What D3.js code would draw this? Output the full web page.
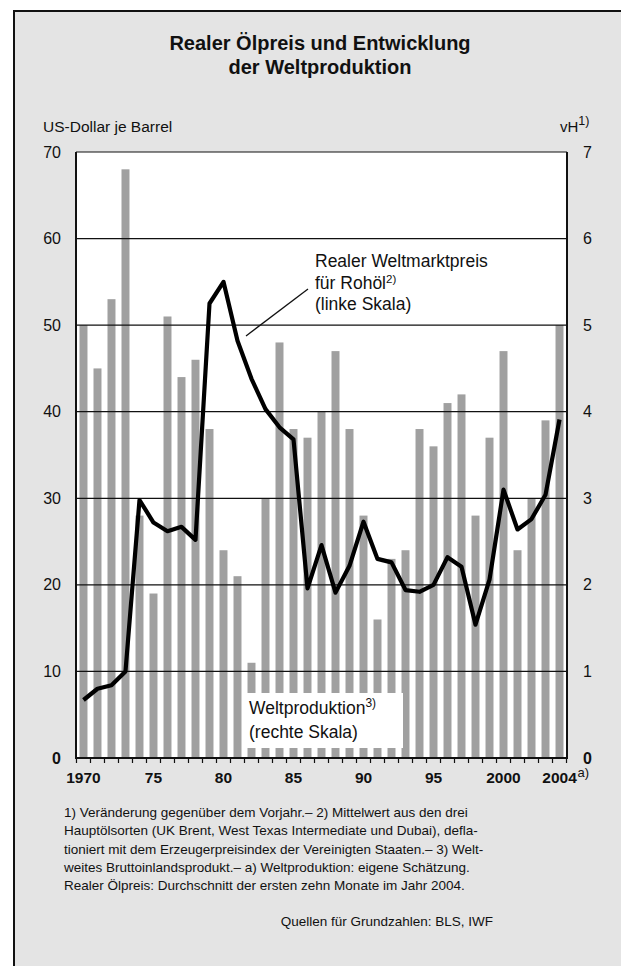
<!DOCTYPE html>
<html>
<head>
<meta charset="utf-8">
<script src="https://cdn.jsdelivr.net/npm/d3@7"></script>
<style>
  body { margin: 0; background: #fff; }
  text { font-family: "Liberation Sans", Arial, sans-serif; fill: #111; }
</style>
</head>
<body>
<div id="chart"></div>
<script>
// years 1970..2004
const years = d3.range(1970, 2005);

// world production, change vs previous year (vH, right scale)
const production = [5.0, 4.5, 5.3, 6.8, 2.8, 1.9, 5.1, 4.4, 4.6, 3.8,
                    2.4, 2.1, 1.1, 3.0, 4.8, 3.8, 3.7, 4.0, 4.7, 3.8,
                    2.8, 1.6, 2.3, 2.4, 3.8, 3.6, 4.1, 4.2, 2.8, 3.7,
                    4.7, 2.4, 3.0, 3.9, 5.0];

// real crude oil price, US-Dollar per barrel (left scale)
const oilPrice = [6.7, 8.0, 8.4, 10.0, 29.8, 27.2, 26.2, 26.7, 25.2, 52.5,
                  55.0, 48.2, 43.8, 40.3, 38.2, 36.8, 19.6, 24.6, 19.1, 22.2,
                  27.3, 23.0, 22.6, 19.4, 19.2, 20.0, 23.2, 22.1, 15.4, 20.6,
                  31.0, 26.4, 27.6, 30.4, 39.1];

const leftTicks = [0, 10, 20, 30, 40, 50, 60, 70];
const rightTicks = [0, 1, 2, 3, 4, 5, 6, 7];
const yearLabels = {1970: '1970', 1975: '75', 1980: '80', 1985: '85', 1990: '90', 1995: '95', 2000: '2000', 2004: '2004'};

const footnotes = [
  '1) Veränderung gegenüber dem Vorjahr.– 2) Mittelwert aus den drei',
  'Hauptölsorten (UK Brent, West Texas Intermediate und Dubai), defla-',
  'tioniert mit dem Erzeugerpreisindex der Vereinigten Staaten.– 3) Welt-',
  'weites Bruttoinlandsprodukt.– a) Weltproduktion: eigene Schätzung.',
  'Realer Ölpreis: Durchschnitt der ersten zehn Monate im Jahr 2004.'
];

const width = 621, height = 966;
const plotLeft = 76, plotRight = 567, plotTop = 152, plotBottom = 758;

const svg = d3.select('#chart')
              .append('svg')
              .attr('width', width)
              .attr('height', height);

// grey panel with frame on top and left
svg.append('rect')
   .attr('x', 14).attr('y', 11)
   .attr('width', width - 14).attr('height', height - 11)
   .attr('fill', '#e4e4e4');
svg.append('path')
   .attr('d', `M14,${height} L14,11 L${width},11`)
   .attr('fill', 'none')
   .attr('stroke', '#111')
   .attr('stroke-width', 2);

// title
const title = svg.append('text')
   .attr('text-anchor', 'middle')
   .style('font-weight', 'bold')
   .style('font-size', '20px');
title.append('tspan').attr('x', 320).attr('y', 50).text('Realer Ölpreis und Entwicklung');
title.append('tspan').attr('x', 320).attr('y', 74).text('der Weltproduktion');

svg.append('text')
   .attr('x', 43).attr('y', 132)
   .style('font-size', '15.5px')
   .text('US-Dollar je Barrel');

const vh = svg.append('text')
   .attr('x', 560).attr('y', 132)
   .style('font-size', '15px');
vh.append('tspan').text('vH');
vh.append('tspan').attr('dy', -7).style('font-size', '12.5px').text('1)');

// scales
const xScale = d3.scaleBand()
                 .domain(years)
                 .range([plotLeft, plotRight])
                 .paddingInner(0.43)
                 .paddingOuter(0.25);
const yLeft = d3.scaleLinear().domain([0, 70]).range([plotBottom, plotTop]);
const yRight = d3.scaleLinear().domain([0, 7]).range([plotBottom, plotTop]);
const step = xScale.step();
const center = y => xScale(y) + xScale.bandwidth() / 2;

// plot background
svg.append('rect')
   .attr('x', plotLeft).attr('y', plotTop)
   .attr('width', plotRight - plotLeft).attr('height', plotBottom - plotTop)
   .attr('fill', '#fff');

// bars
svg.selectAll('rect.bar')
   .data(years)
   .enter()
   .append('rect')
   .attr('class', 'bar')
   .attr('x', d => xScale(d))
   .attr('width', xScale.bandwidth())
   .attr('y', (d, i) => yRight(production[i]))
   .attr('height', (d, i) => plotBottom - yRight(production[i]))
   .attr('fill', '#a0a0a0');

// gridlines
svg.selectAll('line.grid')
   .data(leftTicks.slice(1))
   .enter()
   .append('line')
   .attr('x1', plotLeft).attr('x2', plotRight)
   .attr('y1', d => yLeft(d)).attr('y2', d => yLeft(d))
   .attr('stroke', '#111')
   .attr('stroke-width', 1.2);

// left and right borders, bottom axis
svg.append('path')
   .attr('d', `M${plotLeft},${plotTop} L${plotLeft},${plotBottom} L${plotRight},${plotBottom} L${plotRight},${plotTop}`)
   .attr('fill', 'none')
   .attr('stroke', '#111')
   .attr('stroke-width', 2);

// x ticks at the band boundaries
const tickPos = years.map(y => center(y) - step / 2).concat([center(2004) + step / 2]);
svg.selectAll('line.xtick')
   .data(tickPos)
   .enter()
   .append('line')
   .attr('x1', d => d).attr('x2', d => d)
   .attr('y1', plotBottom).attr('y2', plotBottom + 5)
   .attr('stroke', '#111')
   .attr('stroke-width', 1.2);

// x labels
svg.selectAll('text.xlab')
   .data(years.filter(y => yearLabels[y]))
   .enter()
   .append('text')
   .attr('x', d => center(d))
   .attr('y', 783)
   .attr('text-anchor', 'middle')
   .style('font-weight', 'bold')
   .style('font-size', '15.5px')
   .text(d => yearLabels[d]);
svg.append('text')
   .attr('x', center(2004) + 18).attr('y', 777)
   .style('font-size', '13px')
   .text('a)');

// left axis labels
svg.selectAll('text.ylab')
   .data(leftTicks)
   .enter()
   .append('text')
   .attr('x', 61)
   .attr('y', d => yLeft(d) + 5.5)
   .attr('text-anchor', 'end')
   .style('font-size', '16px')
   .style('font-weight', d => d === 0 ? 'bold' : 'normal')
   .text(d => d);

// right axis labels
svg.selectAll('text.rlab')
   .data(rightTicks)
   .enter()
   .append('text')
   .attr('x', 583)
   .attr('y', d => yRight(d) + 5.5)
   .style('font-size', '16px')
   .style('font-weight', d => d === 0 ? 'bold' : 'normal')
   .text(d => d);

// oil price line
const line = d3.line()
               .x((d, i) => center(years[i]))
               .y(d => yLeft(d));
svg.append('path')
   .datum(oilPrice)
   .attr('d', line)
   .attr('fill', 'none')
   .attr('stroke', '#000')
   .attr('stroke-width', 4.2)
   .attr('stroke-linejoin', 'round');

// oil price annotation
svg.append('line')
   .attr('x1', 246).attr('y1', 336)
   .attr('x2', 308).attr('y2', 289)
   .attr('stroke', '#111')
   .attr('stroke-width', 1.3);
const oilLabel = svg.append('text').style('font-size', '17.5px');
oilLabel.append('tspan').attr('x', 315).attr('y', 267).text('Realer Weltmarktpreis');
oilLabel.append('tspan').attr('x', 315).attr('y', 289).text('für Rohöl');
oilLabel.append('tspan').attr('dy', -6).style('font-size', '11.5px').text('2)');
oilLabel.append('tspan').attr('x', 315).attr('y', 310).text('(linke Skala)');

// production annotation with white box
svg.append('rect')
   .attr('x', 243).attr('y', 693)
   .attr('width', 160).attr('height', 55)
   .attr('fill', '#fff');
const prodLabel = svg.append('text').style('font-size', '17.5px');
prodLabel.append('tspan').attr('x', 249).attr('y', 714).text('Weltproduktion');
prodLabel.append('tspan').attr('dy', -7).style('font-size', '12px').text('3)');
prodLabel.append('tspan').attr('x', 249).attr('y', 738).text('(rechte Skala)');

// footnotes
svg.selectAll('text.note')
   .data(footnotes)
   .enter()
   .append('text')
   .attr('x', 64)
   .attr('y', (d, i) => 817 + i * 18.3)
   .style('font-size', '13.5px')
   .text(d => d);

svg.append('text')
   .attr('x', 493).attr('y', 926)
   .attr('text-anchor', 'end')
   .style('font-size', '13.5px')
   .text('Quellen für Grundzahlen: BLS, IWF');
</script>
</body>
</html>
